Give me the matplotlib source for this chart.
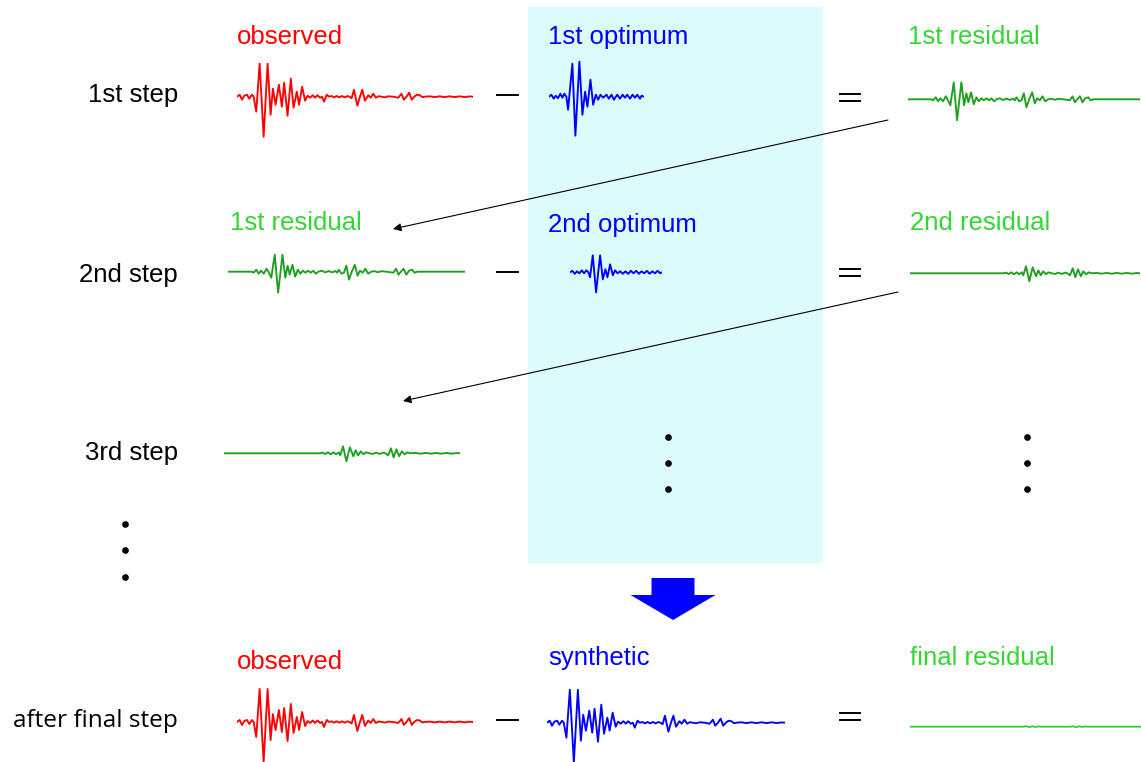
import matplotlib
matplotlib.use("Agg")
import matplotlib.pyplot as plt
from matplotlib.patches import Rectangle, FancyArrow

plt.rcParams['font.family'] = ['Liberation Sans', 'DejaVu Sans']

W, H = 1141, 762

# waveforms: time (s) and amplitude of successive turning points
obs_t = [0, 2.7, 5, 7.3, 10, 12.3, 15, 16.7, 19.3, 22.7, 26.7, 30.7, 33.7, 36, 38.7, 42, 45,
         47.3, 50.7, 54, 56.7, 60, 62.3, 65.3, 68.3, 70.7, 73.3, 76, 78.3, 80.7, 83.3, 85.3,
         87.3, 90, 92.3, 95, 97.3, 100, 102.7, 105.3, 108, 110.7, 112.7, 115, 117.3, 120.7,
         123.3, 125.7, 128.3, 131.7, 134, 136.7, 139.3, 142, 145, 148.3, 151.7, 156.7, 161.7,
         165, 167.3, 170, 172.7, 175.3, 178.3, 180.7, 183.3, 186, 188.3, 193.3, 198.3, 203.3,
         208.3, 213.3, 218.3, 223.3, 228.3, 233.3, 236.7]
obs_a = [0, 2, -3, 1, 2, -2, 2, 0, -15, 33, -40, 33, -18, 8, -8, 12, -10,
         14, -19, 18, -11, 5, -8, 10, -4, 1, -1, 1.5, -1, 1.5, -1, 0,
         -5, 2, 0, 0.7, -0.7, 0.7, -0.7, 0.7, -0.7, 0.7, 0, -1.5, 7, -9,
         0, 7, -4, 1.5, -1, 3, -1, 0.5, 0, -0.6, 0.4, 0, -1,
         3, -3, 0, 4, -3, 0.5, 2, 1.5, -0.5, 0, 0.4, -0.4, 0.4,
         -0.4, 0.4, -0.4, 0.4, -0.4, 0.3, 0]

opt1_t = [0, 2.3, 4.7, 6.7, 9, 11.3, 13.3, 15.3, 17.3, 19, 23.3, 26.3, 30.3, 33.3, 36, 38.3,
          41.3, 44, 46.7, 49, 51.3, 54, 57.3, 59.7, 62.3, 64.7, 68, 70.7, 73.3, 75.7, 78,
          80.7, 83.3, 85.7, 88, 90.7, 92.3, 94.7]
opt1_a = [0, 2, -2, 1, -1.5, 3, -1, 3, 0, -13, 33, -39, 35, -18, 5, -10,
          17, -8, 2, -3, 2, -1, 2, -2, 2, -3, 2, -2, 2, -1, 2,
          -2, 2, -1, 2, -2, 1, 0]

res1_t = [0, 23.3, 25, 27.7, 30, 32.3, 35, 37.7, 40, 42.3, 45.7, 49, 53.3, 56, 58.3, 60.3,
          63, 65.7, 68.3, 70.7, 73.3, 75.7, 78.3, 81, 83.3, 86, 88.3, 91.7, 95, 98.3, 101.7,
          105, 106.7, 108.3, 111, 113.3, 115.7, 118.3, 121, 124, 126.7, 129, 131.7, 134.3,
          137, 140, 143.3, 146.7, 150, 155, 161.7, 164.3, 166.7, 169, 171.7, 174.3, 177, 180,
          182.3, 185, 231.7]
res1_a = [0, 0, -1, 2, -2, 1, -2, 3, -1, -6, 17, -21, 17, -6, 6, -3,
          7, -5, 2, -2, 1, -1, 1, -1, 1, -2, 0, 1, -0.7, 0.7, -0.7,
          0.7, -1, 2, -2, -1, 6, -8, 0, 7, -4, 1, -1, 3,
          -2, 0, 0.5, -0.5, 0.5, 0, -1, 3, -3, 0, 3, -3, 1, 2,
          -1, 0, 0]

opt2_t = [0, 2.3, 4.7, 7, 9.3, 11.7, 14, 16.3, 18.3, 20, 22.7, 26, 30, 32.7, 35.3, 37.3, 40,
          42.7, 45, 47.3, 50, 52.7, 55.3, 58, 60.7, 63.3, 66, 68.7, 71.3, 74, 76.7, 79.3,
          82, 84.7, 87.3, 90, 91.7]
opt2_a = [0, 1.5, -1.5, 1, -1, 2, -1, 2, 0, -5, 17, -20, 17, -7, 3, -5, 8,
          -3, 2, -1, 1, -1.5, 1, -1.5, 1.5, -1, 1.5, -1.5, 1, -1, 1.5, -1.5,
          1, -1, 1.5, -1, 0]

res2_t = [0, 93.3, 96, 98.7, 101.3, 104, 106.7, 109.3, 111.7, 113.3, 116, 119.3, 122.7, 126,
          128.3, 130.7, 133.3, 136, 138.3, 141.7, 145, 148.3, 151.7, 155, 157.3, 160, 162.7,
          165.3, 168, 170.7, 173.3, 176, 178.7, 181.7, 186.7, 191.7, 196.7, 201.7, 206.7,
          211.7, 216.7, 221.7, 226.7, 230]
res2_a = [0, 0, 0.7, -0.7, 1, -1, 1, -1, 1, -2, 7, -8, 6, -3,
          3, -2, 2, -1, 1, 0, -0.7, 0.7, -0.7, 0.7, 0, -2, 5,
          -4, 4, -3, 2, -1, 1, 0, 0.4, -0.4, 0.4, -0.4, 0.4,
          -0.4, 0.4, -0.4, 0.3, 0]

final_t = [0, 113, 116, 119, 122, 125, 128, 131, 160, 163, 166, 169, 172, 175, 178, 230.7]
final_a = [0, 0, 0.5, -0.4, 0.4, -0.3, 0.3, 0, 0, 0.4, -0.4, 0.4, -0.3, 0.3, 0, 0]

RED = '#ff0000'
BLUE = '#0000ff'
GREEN_TXT = '#33d633'
GREEN = '#1f9f1f'

fig = plt.figure(figsize=(W / 100, H / 100), dpi=100)
ax = fig.add_axes([0, 0, 1, 1])
ax.set_xlim(0, W)
ax.set_ylim(H, 0)
ax.axis('off')

# shaded column behind the optimum waveforms
ax.add_patch(Rectangle((528, 7), 295, 556, facecolor='#dcfbfb', edgecolor='none', zorder=0))


def add_trace(t, a, x0, x1, y0, color, lw=1.35):
    half = 45
    axt = fig.add_axes([x0 / W, 1 - (y0 + half) / H, (x1 - x0) / W, 2 * half / H])
    axt.plot(t, a, color=color, lw=lw, solid_joinstyle='round', solid_capstyle='round')
    axt.set_xlim(t[0], t[-1])
    axt.set_ylim(-half, half)
    axt.axis('off')


# row 1
add_trace(obs_t, obs_a, 237, 473, 96.7, RED)
add_trace(opt1_t, opt1_a, 549, 644, 96.7, BLUE)
add_trace(res1_t, res1_a, 908, 1140, 99.3, GREEN)
# row 2
add_trace(res1_t, res1_a, 228, 465, 271.7, GREEN)
add_trace(opt2_t, opt2_a, 570, 662, 272.3, BLUE)
add_trace(res2_t, res2_a, 910, 1140, 273.3, GREEN)
# row 3
add_trace(res2_t, res2_a, 224, 460, 453.3, GREEN)
# final row
add_trace(obs_t, obs_a, 237, 473, 722, RED)
add_trace(obs_t, obs_a, 547, 785, 722.7, BLUE)
add_trace(final_t, final_a, 910, 1141, 726.7, '#3ccc3c')

fs = 18.5
labels = [
    (237, 37, 'observed', RED), (548, 37, '1st optimum', BLUE), (908, 37, '1st residual', GREEN_TXT),
    (230, 223, '1st residual', GREEN_TXT), (548, 225, '2nd optimum', BLUE),
    (910, 223, '2nd residual', GREEN_TXT),
    (237, 662, 'observed', RED), (548, 658, 'synthetic', BLUE), (910, 658, 'final residual', GREEN_TXT),
]
for x, y, s, c in labels:
    ax.text(x, y, s, color=c, fontsize=fs, ha='left', va='center')

for y, s in [(95, '1st step'), (275, '2nd step'), (453, '3rd step')]:
    ax.text(178, y, s, color='black', fontsize=fs, ha='right', va='center')
ax.text(178, 721, 'after final step', color='black', fontsize=17.6, ha='right', va='center',
        family=['Open Sans', 'DejaVu Sans'])

# minus and equals signs
for y in [95, 272, 720]:
    ax.plot([497, 518], [y, y], color='black', lw=1.4)
for y in [97, 272, 716]:
    ax.plot([840, 860], [y - 3.5, y - 3.5], color='black', lw=1.4)
    ax.plot([840, 860], [y + 3.5, y + 3.5], color='black', lw=1.4)

# vertical ellipses
ax.plot([125, 125, 125], [524, 550, 577], 'o', color='black', ms=3.8)
ax.plot([668, 668, 668], [437, 463, 489], 'o', color='black', ms=3.8)
ax.plot([1027, 1027, 1027], [437, 463, 489], 'o', color='black', ms=3.8)

# residual feeds the next step
for (xa, ya), (xb, yb) in [((888, 120), (393, 229)), ((898, 292), (403, 401))]:
    ax.annotate('', xy=(xb, yb), xytext=(xa, ya),
                arrowprops=dict(arrowstyle='-|>', color='black', lw=0.8,
                                mutation_scale=12, shrinkA=0, shrinkB=0))

ax.add_patch(FancyArrow(673, 578, 0, 42, width=43, head_width=85, head_length=25,
                        length_includes_head=True, color=BLUE, lw=0))

fig.savefig('out.png', dpi=100)
